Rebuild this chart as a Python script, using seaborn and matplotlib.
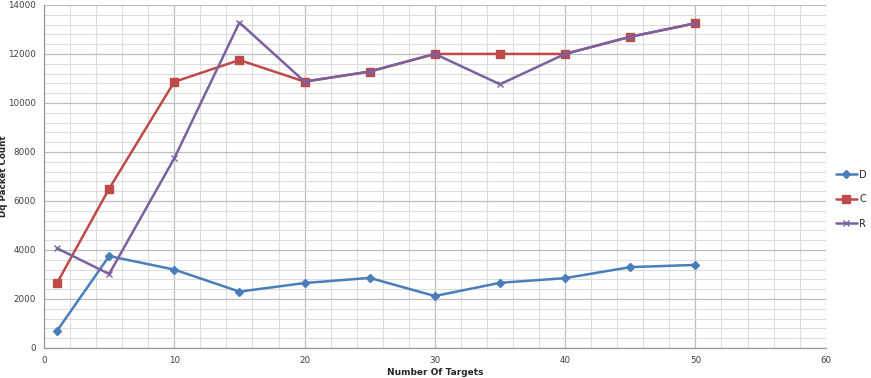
import numpy as np
import pandas as pd
import matplotlib
matplotlib.use("Agg")
import matplotlib.pyplot as plt
from matplotlib.ticker import MultipleLocator
import seaborn as sns

# ===== data =====
targets = [1, 5, 10, 15, 20, 25, 30, 35, 40, 45, 50]
d_counts = [700, 3750, 3200, 2300, 2650, 2860, 2120, 2660, 2850, 3300, 3390]
c_counts = [2650, 6500, 10860, 11750, 10870, 11280, 12000, 12000, 12000, 12700, 13250]
r_counts = [4070, 3020, 7740, 13280, 10870, 11280, 12000, 10760, 12000, 12700, 13250]
series_names = ["D", "C", "R"]

# ===== styles =====
colors = ["#4A7EBB", "#BE4B48", "#7D60A0"]
markers = ["D", "s", "x"]
msizes = [4, 6, 5]

sns.set_style("white")
plt.rcParams["font.family"] = ["DejaVu Sans"]

fig = plt.figure(figsize=(8.71, 3.78), dpi=100)
ax = fig.add_axes([0.0505, 0.0794, 0.8975, 0.9076])

for name, vals, col, mk, ms in zip(series_names, [d_counts, c_counts, r_counts], colors, markers, msizes):
    sns.lineplot(x=targets, y=vals, ax=ax, color=col, marker=mk, markersize=ms,
                 markeredgecolor=col, markeredgewidth=1.0, linewidth=1.8, label=name)

ax.set_xlim(0, 60)
ax.set_ylim(0, 14000)
ax.xaxis.set_major_locator(MultipleLocator(10))
ax.xaxis.set_minor_locator(MultipleLocator(2))
ax.yaxis.set_major_locator(MultipleLocator(2000))
ax.yaxis.set_minor_locator(MultipleLocator(400))
ax.grid(which="major", color="#BDBDBD", linewidth=0.9)
ax.grid(which="minor", color="#DCDCDC", linewidth=0.8)
ax.set_axisbelow(True)

for s in ["top", "right"]:
    ax.spines[s].set_visible(False)
for s in ["left", "bottom"]:
    ax.spines[s].set_color("#9A9A9A")
    ax.spines[s].set_linewidth(0.9)

ax.tick_params(axis="both", labelsize=6.3, colors="#404040", length=0, pad=6)
ax.set_xlabel("Number Of Targets", fontsize=6.5, fontweight="bold", labelpad=2)
ax.set_ylabel("Dq Packet Count", fontsize=6.3, fontweight="bold")
ax.yaxis.set_label_coords(-0.046, 0.5)

ax.legend_.remove()
handles, labels = ax.get_legend_handles_labels()
fig.legend(handles, labels, loc="center left", bbox_to_anchor=(0.955, 0.473),
           frameon=False, fontsize=7, handlelength=2.2, handletextpad=0.2,
           labelspacing=1.5, borderaxespad=0)

fig.savefig("out.png", dpi=100)
